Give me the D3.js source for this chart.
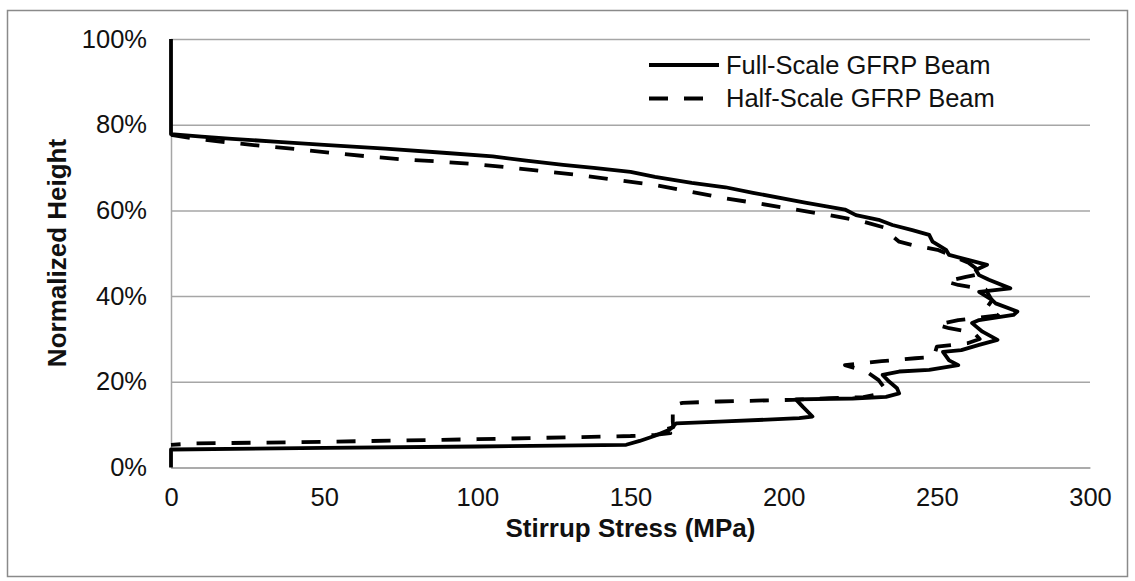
<!DOCTYPE html>
<html>
<head>
<meta charset="utf-8">
<script src="https://cdn.jsdelivr.net/npm/d3@7"></script>
<style>
    body { margin: 0; background: #fff; }
    text { font-family: "Liberation Sans", Arial, sans-serif; fill: #111; }
</style>
</head>
<body>
<div id="chart"></div>
<script>
// stress (MPa), normalized height (%)
const fullScale = [
    [0,100],[0,77.8],[10,77.2],[20,76.7],[35,76.0],[50,75.3],[70,74.4],[90,73.4],[105,72.6],
    [116,71.6],[128,70.6],[138,69.9],[150,69.0],[158,67.8],[170,66.4],[181,65.4],[190,64.1],
    [207,61.8],[220,60.2],[223.6,58.9],[231,57.8],[235.5,56.6],[242,55.4],[247.5,54.3],[248.6,52.7],
    [253,50.8],[254,49.6],[260.5,48.4],[266.4,47.3],[262.7,46.1],[263.8,44.9],[267,43.8],
    [274,41.8],[263.8,41],[268,39.1],[269.2,38.3],[276.3,36.4],[275,35.6],[263.8,34.4],
    [261.5,33.7],[264.9,31.7],[269.8,29.8],[263.8,28.6],[258,27.4],[252,27],[254,25],
    [257,23.9],[247.5,22.8],[237.7,22.4],[232.3,21.6],[234.5,20],[237,18.5],[237.7,17.3],
    [233.4,16.5],[222.5,16.1],[204,15.9],[206.2,14.2],[209.4,11.9],[205.1,11.5],[179,10.7],
    [164.9,10.3],[162.7,8.8],[158,7.4],[153,6.2],[148.6,5.3],[100,4.9],[50,4.6],[0,4.2],[0,0]
];
const halfScale = [
    [0,77.6],[7.3,76.8],[18.2,75.9],[29,75.1],[41,74.3],[52.9,73.4],[64.3,72.6],[75.7,71.9],
    [87.7,71.4],[99.1,70.8],[110.5,70],[122.5,69.1],[133.9,68.2],[145.3,67.1],[157.3,66],
    [168.7,64.5],[180.1,62.9],[192,61.6],[202.9,60.3],[214.9,58.9],[225.8,57.4],[233.9,55.8],
    [235.5,54],[237.7,52.7],[242.1,51.9],[250.2,50.8],[252.9,50],[260.5,47.7],[265,45.3],
    [259.5,44.5],[253,43.4],[257,42.6],[266,41.5],[268,39],[266,37],[270,35.5],[257,34.4],
    [250,33.3],[254,32.5],[262,31.5],[264,30],[260,29],[255,28.6],[250,28.2],[249,25.8],
    [243,25.5],[232,24.8],[220,23.9],[227,22.4],[231,20.4],[233,18.5],[230,17],[226,16.4],
    [215,16.2],[203,15.8],[191,15.6],[179,15.4],[167,15.1],[164,14.5],[163.8,13.9],
    [163.8,10.7],[164,9.4],[160,8.6],[163,8],[158,7.6],[150,7.35],[100,6.6],[50,6],
    [7.3,5.6],[0,5.3]
];
const seriesNames = ["Full-Scale GFRP Beam", "Half-Scale GFRP Beam"];
const xTicks = [0, 50, 100, 150, 200, 250, 300];
const yTicks = [0, 20, 40, 60, 80, 100];

class StressChart {
    constructor(_config, _data) {
        this.config = {
            parentElement: _config.parentElement,
            containerWidth: _config.containerWidth || 1135,
            containerHeight: _config.containerHeight || 581,
            margin: _config.margin || {top: 39, right: 45, bottom: 113.5, left: 171},
            xLabel: _config.xLabel,
            yLabel: _config.yLabel
        }
        this.data = _data;
        this.initVis();
    }

    initVis() {
        let vis = this;
        vis.width = vis.config.containerWidth - vis.config.margin.left - vis.config.margin.right;
        vis.height = vis.config.containerHeight - vis.config.margin.top - vis.config.margin.bottom;

        vis.root = d3.select(vis.config.parentElement)
            .append("svg")
            .attr("width", vis.config.containerWidth)
            .attr("height", vis.config.containerHeight);

        // outer chart frame
        vis.root.append("rect")
            .attr("x", 7.5).attr("y", 10.5)
            .attr("width", 1120).attr("height", 566)
            .attr("fill", "none")
            .attr("stroke", "#8a8a8a")
            .attr("stroke-width", 1.5);

        vis.svg = vis.root.append("g")
            .attr("transform", "translate(" + vis.config.margin.left + "," + vis.config.margin.top + ")");

        vis.x = d3.scaleLinear().domain([0, 300]).range([0, vis.width]);
        vis.y = d3.scaleLinear().domain([0, 100]).range([vis.height, 0]);

        // y axis + gridlines
        let yAxis = vis.svg.append("g")
            .call(d3.axisLeft(vis.y).tickValues(yTicks)
                .tickSizeInner(-vis.width).tickSizeOuter(0).tickPadding(24)
                .tickFormat(d => d + "%"));
        yAxis.selectAll(".tick line").attr("stroke", "#a6a6a6").attr("stroke-width", 1.5);
        yAxis.select(".domain").attr("stroke", "#a6a6a6").attr("stroke-width", 1.5);
        yAxis.selectAll("text").style("font-size", "25.5px").attr("fill", "#111");

        // x axis
        let xAxis = vis.svg.append("g")
            .attr("transform", "translate(0," + vis.height + ")")
            .call(d3.axisBottom(vis.x).tickValues(xTicks).tickSize(0).tickPadding(20));
        xAxis.select(".domain").attr("stroke", "#a6a6a6").attr("stroke-width", 1.5);
        xAxis.selectAll("text").style("font-size", "25.5px").attr("fill", "#111");

        vis.root.append("text")
            .attr("text-anchor", "middle")
            .attr("x", vis.config.margin.left + vis.width / 2)
            .attr("y", 537)
            .style("font-size", "26px")
            .style("font-weight", "bold")
            .text(vis.config.xLabel);

        vis.root.append("text")
            .attr("text-anchor", "middle")
            .attr("transform", "translate(66,253)rotate(-90)")
            .style("font-size", "26px")
            .style("font-weight", "bold")
            .text(vis.config.yLabel);

        let line = d3.line()
            .x(d => vis.x(d[0]))
            .y(d => vis.y(d[1]));

        let dashes = [null, "19,16"];

        vis.svg.selectAll(".series")
            .data(vis.data)
            .enter()
        .append("path")
            .attr("class", "series")
            .attr("d", d => line(d))
            .attr("fill", "none")
            .attr("stroke", "#000")
            .attr("stroke-width", 3.8)
            .attr("stroke-linejoin", "round")
            .attr("stroke-dasharray", (d, i) => dashes[i]);

        // legend
        let legend = vis.root.append("g");
        seriesNames.forEach((name, i) => {
            let ly = 65 + i * 33.5;
            legend.append("line")
                .attr("x1", 649).attr("x2", 719)
                .attr("y1", ly).attr("y2", ly)
                .attr("stroke", "#000")
                .attr("stroke-width", 3.8)
                .attr("stroke-dasharray", dashes[i]);
            legend.append("text")
                .attr("x", 726).attr("y", ly)
                .attr("dy", "0.35em")
                .style("font-size", "25.5px")
                .text(name);
        });
    }
}

new StressChart({
    parentElement: "#chart",
    xLabel: "Stirrup Stress (MPa)",
    yLabel: "Normalized Height"
}, [fullScale, halfScale]);
</script>
</body>
</html>
